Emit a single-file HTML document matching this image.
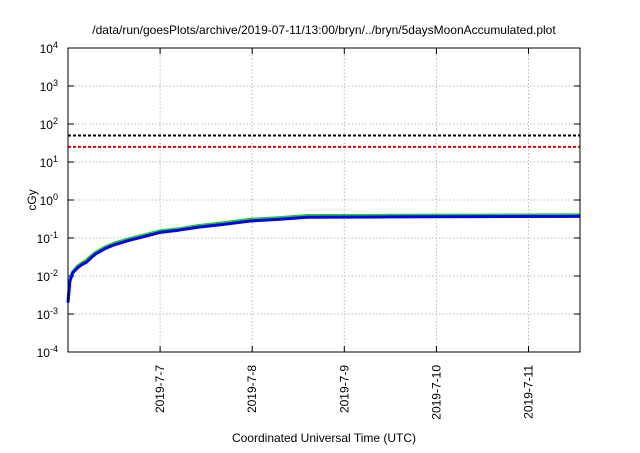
<!DOCTYPE html>
<html><head><meta charset="utf-8"><style>
body{margin:0;background:#fff;font-family:"Liberation Sans",sans-serif}
</style></head><body>
<svg width="640" height="448" xmlns="http://www.w3.org/2000/svg" font-family="Liberation Sans, sans-serif">
<text x="324" y="34" text-anchor="middle" font-size="12">/data/run/goesPlots/archive/2019-07-11/13:00/bryn/../bryn/5daysMoonAccumulated.plot</text>
<g id="grid"></g><g id="ticks"></g><g id="series"></g>
<rect x="68" y="48" width="512" height="304" fill="none" stroke="#000" stroke-width="1"/>
<text transform="translate(36,200) rotate(-90)" text-anchor="middle" font-size="12">cGy</text>
<text x="324" y="442" text-anchor="middle" font-size="12">Coordinated Universal Time (UTC)</text>
</svg>
<script>
const yExps=[-4,-3,-2,-1,0,1,2,3,4];
const xTickDays=[7,8,9,10,11];
const xTickLabels=["2019-7-7","2019-7-8","2019-7-9","2019-7-10","2019-7-11"];
const days=[6.0,6.02,6.05,6.1,6.15,6.2,6.25,6.3,6.4,6.5,6.65,6.8,7.0,7.2,7.4,7.7,7.98,8.3,8.6,9.5,10.5,11.56];
const blueVals=[0.002,0.007,0.012,0.016,0.02,0.023,0.03,0.038,0.052,0.066,0.085,0.105,0.14,0.16,0.19,0.23,0.28,0.31,0.35,0.36,0.365,0.37];
const greenVals=[0.0023,0.008,0.013,0.018,0.022,0.026,0.034,0.042,0.058,0.073,0.094,0.116,0.155,0.175,0.21,0.255,0.31,0.345,0.39,0.395,0.4,0.405];
const thresholds=[50,25];
const thrColors=["#000","#e00"];
const NS="http://www.w3.org/2000/svg";
const X=d=>68+(d-6.0)*92.1;
const Y=v=>200-Math.log10(v)*38;
function mk(t,a,p){const e=document.createElementNS(NS,t);for(const k in a)e.setAttribute(k,a[k]);document.getElementById(p).appendChild(e);return e;}
yExps.forEach(ex=>{const y=Y(Math.pow(10,ex));
 if(ex>-4&&ex<4){const g=mk('line',{x1:68,x2:580,y1:y,y2:y,stroke:'#bbb','stroke-dasharray':'1.5,2'},'grid');
 
 }
 const t=mk('line',{x1:68,x2:74,y1:y,y2:y,stroke:'#000'},'ticks');
 
 
 const t2=mk('line',{x1:574,x2:580,y1:y,y2:y,stroke:'#000'},'ticks');
 
 
 const l=mk('text',{x:58,y:y+5,'text-anchor':'end','font-size':12},'ticks');
 
 
 l.innerHTML='10<tspan dy="-5" font-size="9">'+ex+'</tspan>';});
xTickDays.forEach((d,i)=>{const x=X(d);
 const g=mk('line',{x1:x,x2:x,y1:48,y2:352,stroke:'#bbb','stroke-dasharray':'1.5,2'},'grid');
 
 
 const t=mk('line',{x1:x,x2:x,y1:346,y2:352,stroke:'#000'},'ticks');
 
 
 const t2=mk('line',{x1:x,x2:x,y1:48,y2:54,stroke:'#000'},'ticks');
 
 
 const l=mk('text',{transform:`translate(${x+4},365) rotate(-90)`,'text-anchor':'end','font-size':12},'ticks');
 
 
 l.textContent=xTickLabels[i];});
thresholds.forEach((v,i)=>{const y=Y(v);
 const l=mk('line',{x1:68,x2:580,y1:y,y2:y,stroke:thrColors[i],'stroke-width':2,'stroke-dasharray':'3,2'},'series');
 
 });
function path(vals){return days.map((d,i)=>(i?'L':'M')+X(d).toFixed(1)+','+Y(vals[i]).toFixed(1)).join(' ');}
const g=mk('path',{d:path(greenVals),fill:'none',stroke:'#2c2','stroke-width':3,'stroke-linejoin':'round'},'series');


const b=mk('path',{d:path(blueVals),fill:'none',stroke:'#00f','stroke-width':3,'stroke-linejoin':'round'},'series');


</script>
</body></html>
